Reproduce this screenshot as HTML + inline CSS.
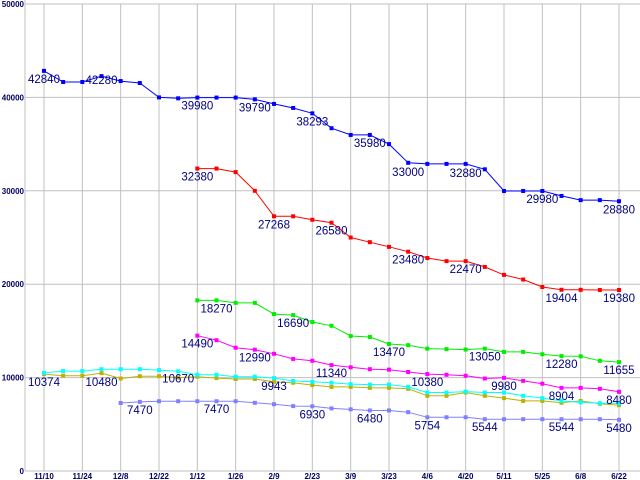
<!DOCTYPE html>
<html><head><meta charset="utf-8"><style>
html,body{margin:0;padding:0;background:#fff;}
svg{display:block;font-family:"Liberation Sans",sans-serif;}
</style></head><body>
<svg id="chart" width="640" height="480"></svg>
<script>
const xLabels=["11/10","11/24","12/8","12/22","1/12","1/26","2/9","2/23","3/9","3/23","4/6","4/20","5/11","5/25","6/8","6/22"];
const yTicks=[0,10000,20000,30000,40000,50000];
const blueStart=0;
const blueValues=[42840,41650,41650,42280,41750,41540,40000,39900,39980,39980,39980,39790,39300,38870,38293,36700,35980,35980,35000,33000,32880,32880,32880,32300,29980,29980,29980,29450,29000,29000,28880];
const redStart=8;
const redValues=[32380,32380,32000,30000,27268,27268,26900,26580,25000,24500,24000,23480,22800,22470,22470,21850,21000,20500,19700,19404,19400,19380,19380];
const greenStart=8;
const greenValues=[18270,18270,18000,18000,16800,16690,15950,15550,14450,14350,13600,13470,13100,13050,13000,13100,12750,12750,12500,12300,12280,11800,11655];
const magentaStart=8;
const magentaValues=[14490,14000,13200,12990,12550,12000,11800,11340,11100,10900,10850,10600,10380,10300,10200,9900,9980,9650,9350,8900,8900,8800,8480];
const cyanStart=0;
const cyanValues=[10500,10700,10700,10900,10900,10900,10800,10670,10300,10300,10100,10100,9943,9650,9550,9450,9300,9250,9250,9000,8400,8400,8500,8400,8400,8050,7800,7500,7350,7250,7250];
const yellowStart=0;
const yellowValues=[10374,10200,10200,10480,9900,10150,10150,10000,10100,9950,9850,9850,9550,9450,9200,9000,9000,8900,8900,8800,8050,8050,8400,8050,7800,7500,7500,7300,7500,7200,7050];
const lavenderStart=4;
const lavenderValues=[7280,7400,7470,7470,7470,7470,7470,7300,7150,6950,6930,6700,6600,6480,6480,6300,5754,5754,5754,5544,5544,5544,5544,5544,5544,5544,5480];
const pointLabels=[
 ["blue",0,"42840",12],["blue",3,"42280",8],["blue",8,"39980",12],["blue",11,"39790",12],["blue",14,"38293",12],["blue",17,"35980",12],["blue",19,"33000",13],["blue",22,"32880",13],["blue",26,"29980",12],["blue",30,"28880",12],
 ["red",8,"32380",12],["red",12,"27268",12],["red",15,"26580",12],["red",19,"23480",12],["red",22,"22470",12],["red",27,"19404",12],["red",30,"19380",12],
 ["green",9,"18270",12],["green",13,"16690",12],["green",18,"13470",12],["green",23,"13050",12],["green",27,"12280",12],["green",30,"11655",12],
 ["magenta",8,"14490",12],["magenta",11,"12990",12],["magenta",15,"11340",12],["magenta",20,"10380",12],["magenta",24,"9980",12],["magenta",30,"8480",12],
 ["yellow",0,"10374",12],["yellow",3,"10480",13],["cyan",7,"10670",11],["cyan",12,"9943",12],["cyan",27,"8904",-1],
 ["lavender",5,"7470",12],["lavender",9,"7470",12],["lavender",14,"6930",12],["lavender",17,"6480",12],["lavender",20,"5754",12],["lavender",23,"5544",12],["lavender",27,"5544",12],["lavender",30,"5480",12]
];
const NS="http://www.w3.org/2000/svg";
const svg=document.getElementById("chart");
const left=25,right=640,top0=4,bottom=471,yMax=50000;
function xPos(i){return 44+i*(619-44)/30;}
function yPos(v){return bottom-(v/yMax)*(bottom-top0);}
function mk(tag,attrs){const e=document.createElementNS(NS,tag);for(const k in attrs)e.setAttribute(k,attrs[k]);svg.appendChild(e);return e;}
yTicks.forEach(t=>{
 const l=mk("line",{x1:left,x2:right,y1:yPos(t),y2:yPos(t),stroke:"#c0c0c0","stroke-width":1});
 
 
 const tx=mk("text",{x:left-1,y:yPos(t)+3,"text-anchor":"end","font-size":"8","font-weight":"bold",fill:"#000066"});
 tx.textContent=String(t);
 
 
});
xLabels.forEach((lab,k)=>{
 const x=xPos(k*2);
 const l=mk("line",{x1:x,x2:x,y1:top0,y2:bottom,stroke:"#c0c0c0","stroke-width":1});
 
 
 const tx=mk("text",{x:x,y:479,"text-anchor":"middle","font-size":"8","font-weight":"bold",fill:"#000066"});
 tx.textContent=lab;
 
 
});
const ax=mk("line",{x1:left,x2:left,y1:0,y2:bottom,stroke:"#c0c0c0","stroke-width":1});


const series={
 blue:{start:blueStart,vals:blueValues,color:"#0000ff"},
 red:{start:redStart,vals:redValues,color:"#ff0000"},
 green:{start:greenStart,vals:greenValues,color:"#00ee00"},
 magenta:{start:magentaStart,vals:magentaValues,color:"#ff00ff"},
 lavender:{start:lavenderStart,vals:lavenderValues,color:"#8080ff"},
 yellow:{start:yellowStart,vals:yellowValues,color:"#c0b000"},
 cyan:{start:cyanStart,vals:cyanValues,color:"#00ffff"}
};
Object.keys(series).forEach(name=>{
 const s=series[name];
 const pts=s.vals.map((v,i)=>xPos(s.start+i).toFixed(1)+","+yPos(v).toFixed(1)).join(" ");
 const pl=mk("polyline",{points:pts,fill:"none",stroke:s.color,"stroke-width":1});
 
 
 s.vals.forEach((v,i)=>{
  const r=mk("rect",{x:xPos(s.start+i)-2,y:yPos(v)-2,width:4,height:4,fill:s.color});
  
  
 });
});
pointLabels.forEach(p=>{
 const s=series[p[0]];
 const i=p[1];
 const v=s.vals[i-s.start];
 const t=mk("text",{x:xPos(i),y:yPos(v)+p[3],"text-anchor":"middle","font-size":"11.5",fill:"#000080"});
 t.textContent=p[2];
 
 
});
</script>
</body></html>
